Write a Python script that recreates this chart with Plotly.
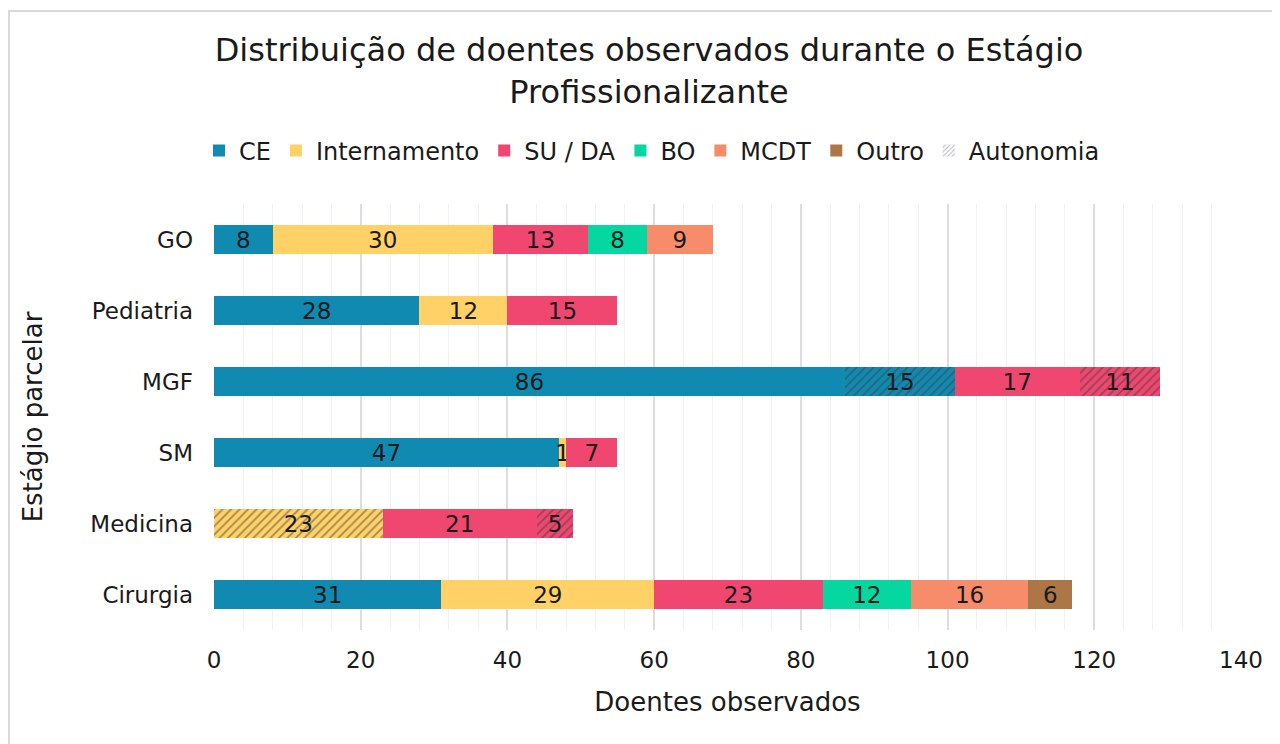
import plotly.graph_objects as go

categories = ["GO", "Pediatria", "MGF", "SM", "Medicina", "Cirurgia"]

ce = [8, 28, 86, 47, 0, 31]
ce_aut = [0, 0, 15, 0, 0, 0]
internamento = [30, 12, 0, 1, 0, 29]
internamento_aut = [0, 0, 0, 0, 23, 0]
su_da = [13, 15, 17, 7, 21, 23]
su_da_aut = [0, 0, 11, 0, 5, 0]
bo = [8, 0, 0, 0, 0, 12]
mcdt = [9, 0, 0, 0, 0, 16]
outro = [0, 0, 0, 0, 0, 6]

colors = {
    "CE": "#118AB2",
    "Internamento": "#FFD166",
    "SU / DA": "#EF476F",
    "BO": "#06D6A0",
    "MCDT": "#F78C6B",
    "Outro": "#AD7647",
}

FONT = "DejaVu Sans"
TXT = "#1a1a1a"

series = [
    ("CE", ce, False, 1),
    ("CE", ce_aut, True, 1),
    ("Internamento", internamento, False, 2),
    ("Internamento", internamento_aut, True, 2),
    ("SU / DA", su_da, False, 3),
    ("SU / DA", su_da_aut, True, 3),
    ("BO", bo, False, 4),
    ("MCDT", mcdt, False, 5),
    ("Outro", outro, False, 6),
]

fig = go.Figure()
for name, vals, aut, rank in series:
    xs = [v if v else None for v in vals]
    txt = [str(v) if v else "" for v in vals]
    marker = dict(color=colors[name], line=dict(width=0))
    if aut:
        marker["pattern"] = dict(shape="/", fgcolor="#404040", bgcolor=colors[name],
                                 size=6, solidity=0.3)
    fig.add_trace(go.Bar(
        y=categories, x=xs, orientation="h", name=name,
        marker=marker, text=txt, textposition="inside", textangle=0,
        insidetextanchor="middle", constraintext="none",
        textfont=dict(family=FONT, size=23, color=TXT),
        showlegend=not aut, legendrank=rank, width=0.4,
        hoverinfo="x+y+name",
    ))

fig.add_trace(go.Bar(
    y=[None], x=[None], orientation="h", name="Autonomia",
    marker=dict(color="white",
                pattern=dict(shape="/", fgcolor="#666666", bgcolor="white", size=4, solidity=0.3)),
    legendrank=7, showlegend=True,
))

fig.update_layout(
    width=1280, height=744,
    barmode="stack",
    paper_bgcolor="white", plot_bgcolor="white",
    margin=dict(l=206, r=47, t=196, b=122),
    font=dict(family=FONT, color=TXT, size=23),
    title=dict(text="Distribuição de doentes observados durante o Estágio<br>Profissionalizante",
               xref="container", yref="container",
               x=0.5008, xanchor="center", y=1 - 53 / 744, yanchor="middle",
               font=dict(family=FONT, size=32, color=TXT)),
    legend=dict(orientation="h", x=(652 - 214) / 1027, xanchor="center",
                y=(630 - 151) / 426, yanchor="middle",
                font=dict(family=FONT, size=24, color=TXT), traceorder="normal",
                itemwidth=30, tracegroupgap=0),
    uniformtext=dict(minsize=23, mode="show"),
    xaxis=dict(range=[0, 140], dtick=20, tick0=0,
               showgrid=True, gridcolor="#dedcdc", gridwidth=1.5,
               minor=dict(dtick=4, showgrid=True, gridcolor="#f1f1f1", gridwidth=1),
               zeroline=False, showline=False, ticks="", automargin=False,
               ticklabelstandoff=14,
               tickfont=dict(family=FONT, size=23, color=TXT),
               title=dict(text="Doentes observados", font=dict(family=FONT, size=26, color=TXT),
                          standoff=20)),
    yaxis=dict(categoryorder="array", categoryarray=categories[::-1],
               showgrid=False, zeroline=False, showline=False, ticks="",
               ticklabelstandoff=20, automargin=False,
               tickfont=dict(family=FONT, size=23, color=TXT),
               title=dict(text="Estágio parcelar", font=dict(family=FONT, size=26, color=TXT),
                          standoff=40)),
    shapes=[dict(type="rect", xref="paper", yref="paper",
                 x0=(9 - 214) / 1027, x1=(1290 - 214) / 1027,
                 y0=(630 - 760) / 426, y1=(630 - 11) / 426,
                 line=dict(color="#d9d9d9", width=2), fillcolor="rgba(0,0,0,0)", layer="below")],
)

fig.write_html("out.html")
